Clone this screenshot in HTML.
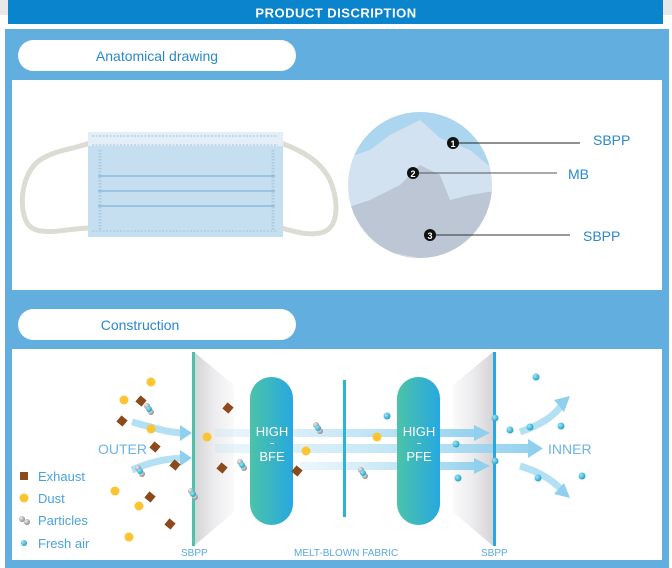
<!DOCTYPE html>
<html><head><meta charset="utf-8"><style>
html,body{margin:0;padding:0;background:#fff;}
svg{display:block;font-family:"Liberation Sans",sans-serif;}
</style></head><body>
<svg width="672" height="568" viewBox="0 0 672 568" xmlns="http://www.w3.org/2000/svg">
<defs>
<linearGradient id="pill" x1="0" x2="1" y1="0" y2="0"><stop offset="0" stop-color="#4cc3a8"/><stop offset="1" stop-color="#27a8e0"/></linearGradient>
<linearGradient id="wedgeL" x1="0" x2="1"><stop offset="0" stop-color="#d4d4d8"/><stop offset="0.5" stop-color="#ececee"/><stop offset="1" stop-color="#fafafa"/></linearGradient>
<linearGradient id="wedgeR" x1="1" x2="0"><stop offset="0" stop-color="#d4d4d8"/><stop offset="0.5" stop-color="#ececee"/><stop offset="1" stop-color="#fafafa"/></linearGradient>
<linearGradient id="band" x1="0" x2="1"><stop offset="0" stop-color="#bfe3f4" stop-opacity="0.3"/><stop offset="1" stop-color="#8fd0ee" stop-opacity="0.95"/></linearGradient>
<radialGradient id="fa" cx="0.35" cy="0.35" r="0.7"><stop offset="0" stop-color="#9fe6f5"/><stop offset="1" stop-color="#1d9fc4"/></radialGradient>
<radialGradient id="pa" cx="0.35" cy="0.35" r="0.7"><stop offset="0" stop-color="#eee"/><stop offset="1" stop-color="#888"/></radialGradient>
<g id="dust"><circle r="4.5" fill="#fbc531"/></g>
<g id="ex"><rect x="-4" y="-4" width="8" height="8" fill="#8b4a1c" transform="rotate(40)"/></g>
<g id="fr"><circle r="3.5" fill="url(#fa)"/></g>
<g id="pt"><circle cx="-2" cy="-3" r="3" fill="url(#pa)"/><circle cx="2" cy="3" r="3" fill="url(#pa)"/><circle cx="0" cy="0" r="3" fill="url(#fa)"/></g>
</defs>
<rect x="0" y="0" width="672" height="15" fill="#e8e8e8"/>
<rect x="8" y="0" width="655" height="24" fill="#0a84cc"/>
<text x="336" y="17.5" text-anchor="middle" fill="#fff" font-size="13" font-weight="bold" letter-spacing="0.5">PRODUCT DISCRIPTION</text>
<rect x="5" y="29" width="664" height="539" fill="#62aede"/>
<rect x="18" y="40" width="278" height="31" rx="15.5" fill="#fff"/>
<text x="157" y="61" text-anchor="middle" fill="#2a88cc" font-size="14">Anatomical drawing</text>
<rect x="12" y="80" width="650" height="210" fill="#fff"/>
<rect x="18" y="309" width="278" height="31" rx="15.5" fill="#fff"/>
<text x="140" y="330" text-anchor="middle" fill="#2a88cc" font-size="14">Construction</text>
<rect x="12" y="349" width="650" height="211" fill="#fff"/>

<!-- mask -->
<path d="M90,143 C70,150 55,150 40,160 C18,175 18,220 32,228 C45,236 70,228 90,228" fill="none" stroke="#dcdcd4" stroke-width="5"/>
<path d="M281,143 C300,150 320,160 330,180 C340,205 338,230 320,233 C305,236 290,230 281,228" fill="none" stroke="#dcdcd4" stroke-width="5"/>
<rect x="88" y="132" width="195" height="105" fill="#c6dff0"/>
<rect x="88" y="132" width="195" height="14" fill="#e3eef6"/>
<line x1="92" y1="136" x2="278" y2="136" stroke="#9fc5e0" stroke-dasharray="2 1.5"/>
<line x1="92" y1="145" x2="278" y2="145" stroke="#9fc5e0" stroke-dasharray="2 1.5"/>
<line x1="92" y1="231" x2="278" y2="231" stroke="#9fc5e0" stroke-dasharray="2 1.5"/>
<line x1="100" y1="150" x2="100" y2="230" stroke="#a9cce4" stroke-width="3" stroke-dasharray="1.5 1.5"/>
<line x1="273" y1="150" x2="273" y2="230" stroke="#a9cce4" stroke-width="3" stroke-dasharray="1.5 1.5"/>
<line x1="98" y1="176" x2="275" y2="176" stroke="#8cbbdc" stroke-width="1.5"/>
<line x1="98" y1="191" x2="275" y2="191" stroke="#8cbbdc" stroke-width="1.5"/>
<line x1="98" y1="206" x2="275" y2="206" stroke="#8cbbdc" stroke-width="1.5"/>

<!-- circle -->
<clipPath id="cc"><ellipse cx="420" cy="185" rx="72" ry="73"/></clipPath>
<g clip-path="url(#cc)">
<rect x="340" y="100" width="160" height="170" fill="#d3e2f0"/>
<path d="M340,100 L500,100 L500,175 L470,150 L440,138 L420,120 L390,135 L370,150 L340,160Z" fill="#acd6f0"/>
<path d="M340,210 L370,200 L400,185 L420,165 L440,175 L450,200 L470,195 L500,190 L500,270 L340,270Z" fill="#bcc6d4"/>
<path d="M340,240 L380,250 L420,258 L500,255 L500,270 L340,270Z" fill="#d0d6e0"/>
</g>
<line x1="455" y1="143" x2="580" y2="143" stroke="#222" stroke-width="1"/>
<line x1="415" y1="173" x2="557" y2="173" stroke="#555" stroke-width="1"/>
<line x1="432" y1="235" x2="570" y2="235" stroke="#333" stroke-width="1"/>
<circle cx="453" cy="143" r="6" fill="#111"/><text x="453" y="147" text-anchor="middle" fill="#fff" font-size="9" font-weight="bold">1</text>
<circle cx="413" cy="173" r="6" fill="#111"/><text x="413" y="177" text-anchor="middle" fill="#fff" font-size="9" font-weight="bold">2</text>
<circle cx="430" cy="235" r="6" fill="#111"/><text x="430" y="239" text-anchor="middle" fill="#fff" font-size="9" font-weight="bold">3</text>
<text x="593" y="145" fill="#2a88cc" font-size="14">SBPP</text>
<text x="568" y="179" fill="#2a88cc" font-size="14">MB</text>
<text x="583" y="241" fill="#2a88cc" font-size="14">SBPP</text>

<!-- construction -->
<polygon points="194,352 234,385 234,512 194,546" fill="url(#wedgeL)"/>
<polygon points="493,352 453,385 453,512 493,546" fill="url(#wedgeR)"/>
<rect x="215" y="429" width="262" height="8" fill="url(#band)"/>
<polygon points="474,425 490,433 474,441" fill="#8fd0ee"/>
<rect x="215" y="444" width="315" height="9" fill="url(#band)"/>
<polygon points="528,439 543,448.5 528,458" fill="#8fd0ee"/>
<rect x="300" y="462" width="177" height="8" fill="url(#band)"/>
<polygon points="474,458 490,466 474,474" fill="#8fd0ee"/>
<path d="M132,422 C155,428 165,432 182,433" fill="none" stroke="#b3e0f3" stroke-width="7"/>
<polygon points="180,425 192,433 180,441" fill="#8fd0ee"/>
<path d="M132,470 C150,462 165,459 182,458" fill="none" stroke="#b3e0f3" stroke-width="7"/>
<polygon points="180,450 192,458 180,466" fill="#8fd0ee"/>
<path d="M520,432 C540,425 552,418 562,405" fill="none" stroke="#b3e0f3" stroke-width="7"/>
<polygon points="554,400 570,396 564,412" fill="#8fd0ee"/>
<path d="M520,466 C540,472 552,480 562,490" fill="none" stroke="#b3e0f3" stroke-width="7"/>
<polygon points="554,494 570,498 564,483" fill="#8fd0ee"/>

<rect x="192" y="352" width="3" height="194" fill="#4cc3a8"/>
<rect x="493" y="352" width="3" height="194" fill="#27a8e0"/>
<rect x="343" y="380" width="3" height="137" fill="#2bb5cf"/>
<rect x="250" y="377" width="43" height="148" rx="21.5" fill="url(#pill)"/>
<rect x="397" y="377" width="43" height="148" rx="21.5" fill="url(#pill)"/>
<g fill="#fff" font-size="13" text-anchor="middle"><text x="272" y="436">HIGH</text><text x="272" y="447">-</text><text x="272" y="461">BFE</text>
<text x="419" y="436">HIGH</text><text x="419" y="447">-</text><text x="419" y="461">PFE</text></g>
<g fill="#59a9e0" font-size="10"><text x="181" y="556">SBPP</text><text x="294" y="556">MELT-BLOWN FABRIC</text><text x="481" y="556">SBPP</text></g>
<text x="98" y="454" fill="#6cb4e4" font-size="14">OUTER</text>
<text x="548" y="454" fill="#6cb4e4" font-size="14">INNER</text>

<use href="#dust" x="151" y="382"/><use href="#dust" x="124" y="400"/><use href="#dust" x="151" y="429"/><use href="#dust" x="115" y="491"/><use href="#dust" x="139" y="506"/><use href="#dust" x="129" y="537"/><use href="#dust" x="207" y="437"/><use href="#dust" x="306" y="451"/><use href="#dust" x="377" y="437"/>
<use href="#ex" x="141" y="401"/><use href="#ex" x="122" y="421"/><use href="#ex" x="155" y="447"/><use href="#ex" x="175" y="465"/><use href="#ex" x="150" y="497"/><use href="#ex" x="170" y="524"/><use href="#ex" x="228" y="408"/><use href="#ex" x="222" y="468"/><use href="#ex" x="297" y="471"/>
<use href="#pt" x="149" y="409"/><use href="#pt" x="140" y="471"/><use href="#pt" x="193" y="494"/><use href="#pt" x="242" y="465"/><use href="#pt" x="318" y="428"/><use href="#pt" x="363" y="473"/>
<use href="#fr" x="387" y="416"/><use href="#fr" x="456" y="444"/><use href="#fr" x="458" y="478"/><use href="#fr" x="536" y="377"/><use href="#fr" x="510" y="430"/><use href="#fr" x="530" y="427"/><use href="#fr" x="561" y="426"/><use href="#fr" x="538" y="478"/><use href="#fr" x="582" y="476"/><use href="#fr" x="495" y="461"/><use href="#fr" x="495" y="418"/>

<rect x="20" y="472" width="8" height="8" fill="#8b4a1c"/>
<circle cx="24" cy="498" r="4.5" fill="#fbc531"/>
<circle cx="22" cy="519" r="3" fill="url(#pa)"/><circle cx="27" cy="522" r="3" fill="url(#pa)"/>
<circle cx="24" cy="543" r="3" fill="url(#fa)"/>
<g fill="#4aa3dc" font-size="13"><text x="38" y="481">Exhaust</text><text x="38" y="503">Dust</text><text x="38" y="525">Particles</text><text x="38" y="548">Fresh air</text></g>
</svg>
</body></html>
